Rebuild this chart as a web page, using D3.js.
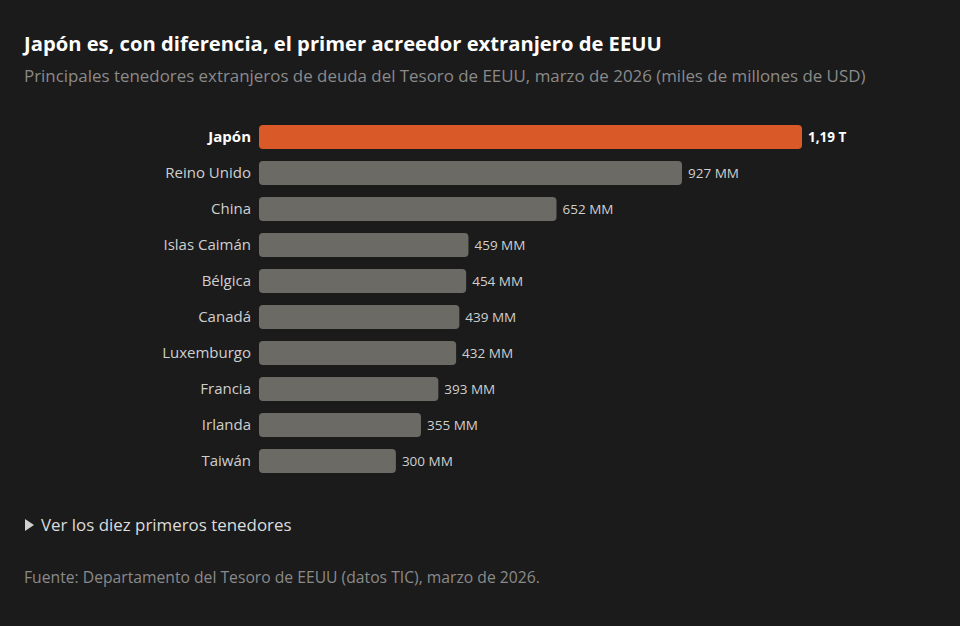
<!DOCTYPE html>
<html><head><meta charset="utf-8">
<script src="https://cdn.jsdelivr.net/npm/d3@7"></script>
<style>
html,body{margin:0;padding:0;background:#1b1b1b;}
svg{display:block;}
</style></head><body>
<svg id="chart" width="960" height="626"></svg>
<script>
const countries = ["Japón","Reino Unido","China","Islas Caimán","Bélgica","Canadá","Luxemburgo","Francia","Irlanda","Taiwán"];
const holdings = [1190,927,652,459,454,439,432,393,355,300];
const valueLabels = ["1,19 T","927 MM","652 MM","459 MM","454 MM","439 MM","432 MM","393 MM","355 MM","300 MM"];
const title = "Japón es, con diferencia, el primer acreedor extranjero de EEUU";
const subtitle = "Principales tenedores extranjeros de deuda del Tesoro de EEUU, marzo de 2026 (miles de millones de USD)";
const toggleText = "Ver los diez primeros tenedores";
const source = "Fuente: Departamento del Tesoro de EEUU (datos TIC), marzo de 2026.";

const data = countries.map((c,i)=>({country:c, value:holdings[i], label:valueLabels[i]}));
const font = "'Open Sans', 'Noto Sans', sans-serif";
const svg = d3.select("#chart");
svg.append("rect").attr("width",960).attr("height",626).attr("fill","#1b1b1b");

svg.append("text").attr("x",24).attr("y",51).text(title)
  .attr("fill","#ffffff").attr("font-family",font).attr("font-weight",700).attr("font-size",20.2);
svg.append("text").attr("x",24).attr("y",82).text(subtitle)
  .attr("fill","#8a8a8a").attr("font-family",font).attr("font-size",16.9);

const x0 = 259;
const x = d3.scaleLinear().domain([0,1190]).range([x0,802]);
const y = d3.scaleBand().domain(countries).range([119,479]).paddingInner(0.333).paddingOuter(0.1665);

const g = svg.append("g");
g.selectAll("rect.bar").data(data).join("rect").attr("class","bar")
  .attr("x",x0).attr("y",d=>y(d.country)).attr("width",d=>x(d.value)-x0).attr("height",y.bandwidth())
  .attr("rx",4).attr("fill",(d,i)=>i===0?"#d95a28":"#6b6a65");

g.selectAll("text.cat").data(data).join("text").attr("class","cat")
  .attr("x",x0-8).attr("y",d=>y(d.country)+y.bandwidth()/2).attr("dy","0.35em")
  .attr("text-anchor","end").text(d=>d.country)
  .attr("fill",(d,i)=>i===0?"#ffffff":"#cfcfcf").attr("font-weight",(d,i)=>i===0?700:400)
  .attr("font-family",font).attr("font-size",15);

g.selectAll("text.val").data(data).join("text").attr("class","val")
  .attr("x",d=>x(d.value)+6).attr("y",d=>y(d.country)+y.bandwidth()/2).attr("dy","0.35em")
  .text(d=>d.label)
  .attr("fill",(d,i)=>i===0?"#ffffff":"#cfcfcf").attr("font-weight",(d,i)=>i===0?700:400)
  .attr("font-family",font).attr("font-size",13.5);

svg.append("path").attr("d","M25,519 L34,525 L25,531 Z").attr("fill","#cfcfcf");
svg.append("text").attr("x",41).attr("y",531).text(toggleText)
  .attr("fill","#dcdcdc").attr("font-family",font).attr("font-size",16.9);
svg.append("text").attr("x",24).attr("y",583).text(source)
  .attr("fill","#8a8a8a").attr("font-family",font).attr("font-size",15.7);
</script>
</body></html>
